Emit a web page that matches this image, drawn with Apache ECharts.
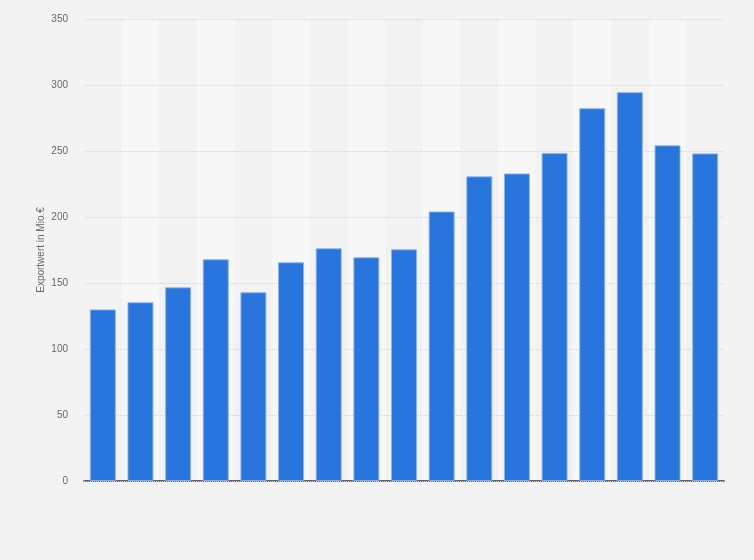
<!DOCTYPE html>
<html>
<head>
<meta charset="utf-8">
<script src="https://cdn.jsdelivr.net/npm/echarts@6/dist/echarts.min.js"></script>
<style>
html,body{margin:0;padding:0;background:#f3f3f3;}
#chart{width:754px;height:560px;}
</style>
</head>
<body>
<div id="chart"></div>
<script>
const categories = ['1','2','3','4','5','6','7','8','9','10','11','12','13','14','15','16','17'];
const values = [130, 135.4, 146.7, 168, 143, 165.7, 176.3, 169.5, 175.5, 204.2, 230.8, 233, 248.5, 282.4, 294.6, 254.3, 248.2];
const yTicks = [0, 50, 100, 150, 200, 250, 300, 350];
const yAxisName = 'Exportwert in Mio.€';

const chart = echarts.init(document.getElementById('chart'), null, {renderer: 'canvas'});
chart.setOption({
  backgroundColor: '#f3f3f3',
  animation: false,
  grid: {left: 84, right: 30, top: 19, bottom: 79},
  xAxis: {
    type: 'category',
    data: categories,
    z: 0,
    axisLabel: {show: false},
    axisTick: {show: false},
    axisLine: {show: true, lineStyle: {color: '#333', width: 1.5}},
    splitArea: {show: true, areaStyle: {color: ['#f2f2f2', '#f7f7f7']}}
  },
  yAxis: {
    type: 'value',
    z: 1,
    min: yTicks[0],
    max: yTicks[yTicks.length - 1],
    interval: 50,
    name: yAxisName,
    nameLocation: 'middle',
    nameGap: 38,
    nameMoveOverlap: false,
    nameTextStyle: {color: '#666', fontSize: 10, fontFamily: 'Liberation Sans, Arial, sans-serif'},
    axisLine: {show: false},
    axisTick: {show: false},
    axisLabel: {color: '#666', fontSize: 10, margin: 16, fontFamily: 'Liberation Sans, Arial, sans-serif'},
    splitLine: {show: true, lineStyle: {color: '#d2d2d2', type: [1, 1], width: 1}}
  },
  series: [{
    type: 'bar',
    z: 2,
    data: values,
    barWidth: '69%',
    itemStyle: {color: '#2876dd', borderColor: 'rgba(140,180,240,0.9)', borderWidth: 1}
  }]
});
</script>
</body>
</html>
